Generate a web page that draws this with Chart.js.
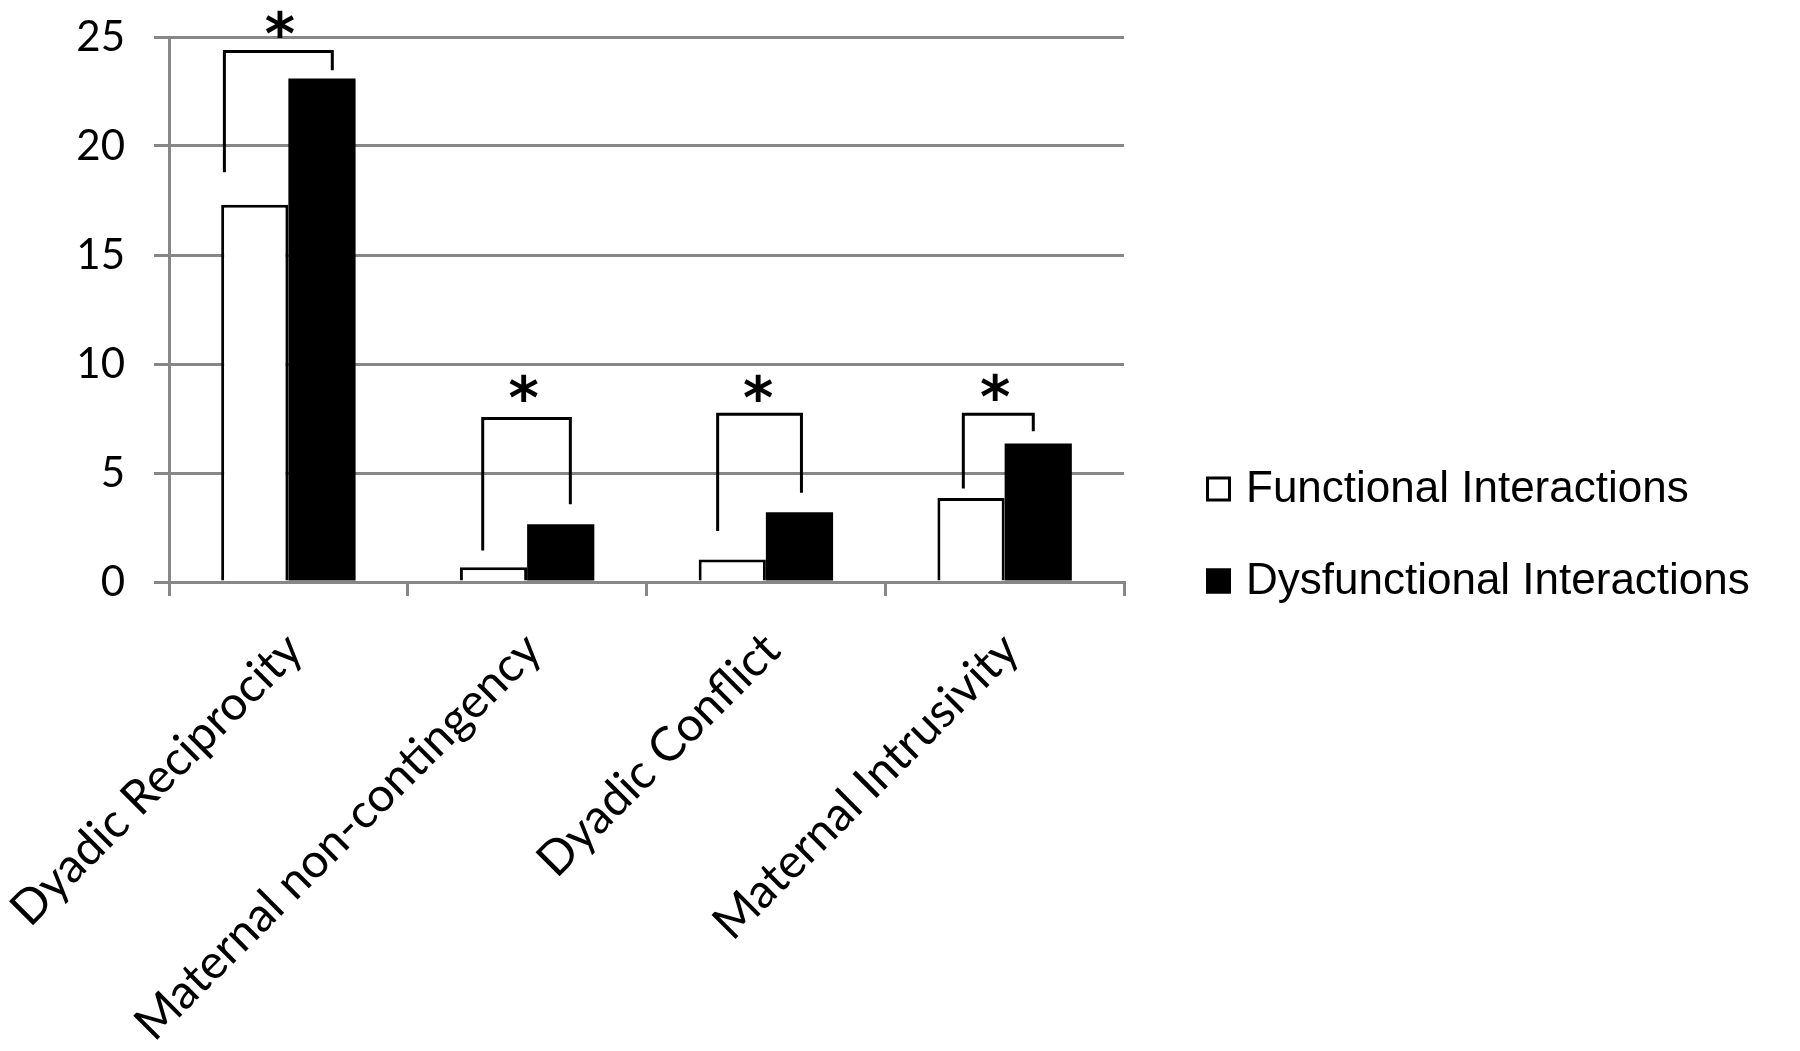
<!DOCTYPE html>
<html>
<head>
<meta charset="utf-8">
<script src="https://cdn.jsdelivr.net/npm/chart.js@4/dist/chart.umd.min.js"></script>
<style>
  html, body { margin: 0; padding: 0; background: #ffffff; }
  #wrap { width: 1800px; height: 1051px; position: relative; }
  canvas { display: block; }
</style>
</head>
<body>
<div id="wrap"><canvas id="c" width="1800" height="1051"></canvas></div>
<script>
// ---- data ----
const categories = ['Dyadic Reciprocity', 'Maternal non-contingency', 'Dyadic Conflict', 'Maternal Intrusivity'];
const seriesNames = ['Functional Interactions', 'Dysfunctional Interactions'];
const functionalValues = [17.3, 0.68, 1.03, 3.85];
const dysfunctionalValues = [23.1, 2.65, 3.2, 6.35];
const yTickValues = [0, 5, 10, 15, 20, 25];

// significance brackets (value levels) and star labels
const bracketLeftEnd  = [18.8, 1.45, 2.34, 4.29];
const bracketTop      = [24.33, 7.5, 7.69, 7.69];
const bracketRightEnd = [23.48, 3.57, 4.09, 6.92];
const starLevel       = [25.6, 8.88, 8.88, 8.93];
const starText        = ['*', '*', '*', '*'];

// ---- styling (relative positions as fractions of category width) ----
const bracketLeftOff  = [-0.268, -0.186, -0.202, -0.173];
const bracketRightOff = [0.184, 0.181, 0.149, 0.12];
const starOff         = [-0.035, -0.014, -0.032, -0.04];

const GRID = '#878787';
const Y_FONT = { family: 'Lato, "Open Sans", sans-serif', size: 42 };
const X_FONT = { family: 'Lato, "Open Sans", sans-serif', size: 47.5 };

const bracketPlugin = {
  id: 'sigBrackets',
  afterDatasetsDraw(chart) {
    const ctx = chart.ctx;
    const xs = chart.scales.x, ys = chart.scales.y;
    const catW = xs.width / categories.length;
    ctx.save();
    ctx.strokeStyle = '#000';
    ctx.lineWidth = 3;
    ctx.lineCap = 'butt';
    ctx.lineJoin = 'miter';
    categories.forEach((c, i) => {
      const cx = xs.getPixelForValue(i);
      const xl = cx + bracketLeftOff[i] * catW;
      const xr = cx + bracketRightOff[i] * catW;
      ctx.beginPath();
      ctx.moveTo(xl, ys.getPixelForValue(bracketLeftEnd[i]));
      ctx.lineTo(xl, ys.getPixelForValue(bracketTop[i]));
      ctx.lineTo(xr, ys.getPixelForValue(bracketTop[i]));
      ctx.lineTo(xr, ys.getPixelForValue(bracketRightEnd[i]));
      ctx.stroke();
      // star
      ctx.fillStyle = '#000';
      ctx.font = 'bold 58px "DejaVu Sans"';
      ctx.textAlign = 'center';
      ctx.textBaseline = 'alphabetic';
      const m = ctx.measureText(starText[i]);
      const mid = (m.actualBoundingBoxAscent - m.actualBoundingBoxDescent) / 2;
      ctx.fillText(starText[i], cx + starOff[i] * catW, ys.getPixelForValue(starLevel[i]) + mid);
    });
    ctx.restore();
  }
};

const legendPlugin = {
  id: 'sideLegend',
  afterDraw(chart) {
    const ctx = chart.ctx;
    const a = chart.chartArea;
    const boxX = a.right + 82;
    const rowY = [a.bottom - 93, a.bottom - 1];
    ctx.save();
    chart.data.datasets.forEach((ds, i) => {
      const y = rowY[i];
      ctx.fillStyle = ds.backgroundColor;
      ctx.fillRect(boxX, y - 12.5, 25, 25);
      ctx.strokeStyle = '#000';
      ctx.lineWidth = 3;
      ctx.strokeRect(boxX + 1.5, y - 11, 22, 22);
      ctx.fillStyle = '#000';
      ctx.font = '44px "Liberation Sans", Arial, sans-serif';
      ctx.textAlign = 'left';
      ctx.textBaseline = 'middle';
      ctx.fillText(ds.label, boxX + 40, y + 1);
    });
    ctx.restore();
  }
};

new Chart(document.getElementById('c'), {
  type: 'bar',
  data: {
    labels: categories,
    datasets: [
      { label: seriesNames[0], data: functionalValues, backgroundColor: '#ffffff', borderColor: '#000000', borderWidth: 3, borderSkipped: 'start' },
      { label: seriesNames[1], data: dysfunctionalValues, backgroundColor: '#000000', borderColor: '#000000', borderWidth: 0 }
    ]
  },
  options: {
    responsive: false,
    animation: false,
    devicePixelRatio: 1,
    layout: { padding: { top: 37, right: 676, bottom: 0, left: 0 } },
    datasets: { bar: { categoryPercentage: 0.563, barPercentage: 1.0 } },
    plugins: { legend: { display: false }, tooltip: { enabled: false } },
    scales: {
      x: {
        afterFit(s) { s.height = 469; s.paddingTop = 0; s.paddingBottom = 0; s.paddingLeft = 0; s.paddingRight = 0; },
        grid: { offset: true, drawOnChartArea: false, drawTicks: true, tickLength: 14, color: GRID, lineWidth: 3 },
        border: { display: true, color: GRID, width: 3 },
        ticks: { autoSkip: false, minRotation: 45, maxRotation: 45, padding: 26, labelOffset: 6, color: '#000', font: X_FONT }
      },
      y: {
        min: 0, max: 25,
        afterFit(s) { s.width = 169; s.paddingTop = 0; s.paddingBottom = 0; },
        afterBuildTicks(s) { s.ticks = yTickValues.map(v => ({ value: v })); },
        grid: { color: GRID, lineWidth: 3, tickLength: 15, drawTicks: true },
        border: { display: true, color: GRID, width: 3 },
        ticks: { padding: 29, color: '#000', font: Y_FONT }
      }
    }
  },
  plugins: [bracketPlugin, legendPlugin]
});
</script>
</body>
</html>
